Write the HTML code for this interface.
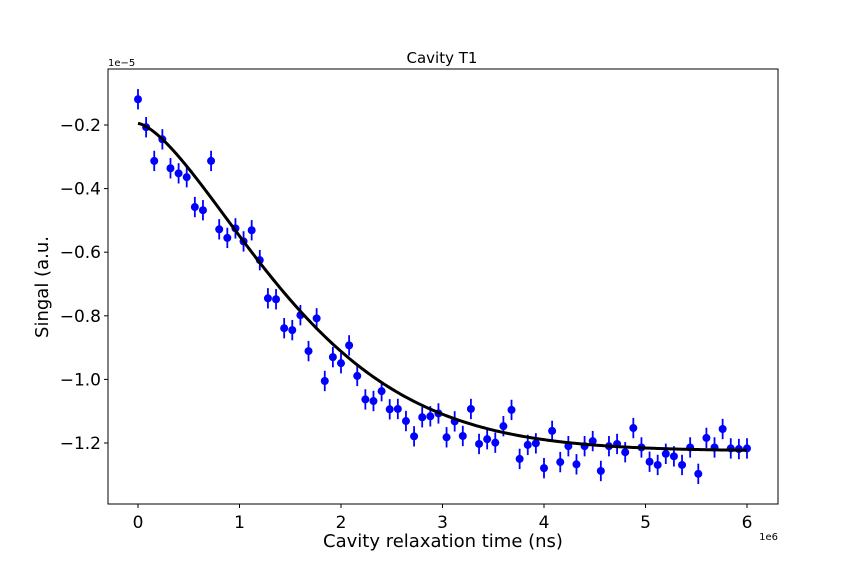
<!DOCTYPE html>
<html><head><meta charset="utf-8"><style>
body{margin:0;background:#fff;}
svg text{font-family:"DejaVu Sans","Liberation Sans",sans-serif;fill:#000;}
</style></head><body>
<svg id="chart" width="864" height="576">
<rect width="864" height="576" fill="#fff"/>
</svg>
<script>
const tValues=[0,0.08,0.16,0.24,0.32,0.4,0.48,0.56,0.64,0.72,0.8,0.88,0.96,1.04,1.12,1.2,1.28,1.36,1.44,1.52,1.6,1.68,1.76,1.84,1.92,2.0,2.08,2.16,2.24,2.32,2.4,2.48,2.56,2.64,2.72,2.8,2.88,2.96,3.04,3.12,3.2,3.28,3.36,3.44,3.52,3.6,3.68,3.76,3.84,3.92,4.0,4.08,4.16,4.24,4.32,4.4,4.48,4.56,4.64,4.72,4.8,4.88,4.96,5.04,5.12,5.2,5.28,5.36,5.44,5.52,5.6,5.68,5.76,5.84,5.92,6.0];
const signalValues=[-0.119,-0.207,-0.313,-0.245,-0.336,-0.352,-0.364,-0.458,-0.468,-0.313,-0.528,-0.555,-0.525,-0.566,-0.531,-0.625,-0.745,-0.748,-0.839,-0.845,-0.798,-0.911,-0.808,-1.005,-0.930,-0.949,-0.893,-0.989,-1.063,-1.068,-1.037,-1.094,-1.093,-1.131,-1.179,-1.119,-1.116,-1.107,-1.182,-1.132,-1.178,-1.093,-1.203,-1.188,-1.199,-1.147,-1.096,-1.250,-1.206,-1.201,-1.279,-1.162,-1.260,-1.210,-1.267,-1.210,-1.194,-1.288,-1.210,-1.203,-1.229,-1.153,-1.214,-1.259,-1.269,-1.234,-1.242,-1.269,-1.214,-1.297,-1.184,-1.214,-1.156,-1.217,-1.219,-1.217];
const errValues=new Array(76).fill(0.032);
const fitParams=[-0.195,-1.225,1.78,1.5]; // start, asymptote, T, stretch
const xTicks=[0,1,2,3,4,5,6];
const yTicks=[-0.2,-0.4,-0.6,-0.8,-1.0,-1.2];

const NS="http://www.w3.org/2000/svg";
const svg=document.getElementById('chart');
const L=108,R=778,T=69,B=504;
const xs=v=>138+(v-0)*(747-138)/6;
const ys=v=>125+(-0.2-v)*318/1.0;
function mk(tag,attrs,parent){const e=document.createElementNS(NS,tag);for(const k in attrs)e.setAttribute(k,attrs[k]);(parent||svg).appendChild(e);return e;}

const g=mk('g',{});


tValues.forEach((t,i)=>{
  const x=xs(t),y=signalValues[i];
  const eb=mk('line',{x1:x,x2:x,y1:ys(y+errValues[i]),y2:ys(y-errValues[i]),stroke:'#0000ff','stroke-width':1.8},g);
  
  
  const c=mk('circle',{cx:x,cy:ys(y),r:4,fill:'#0000ff'},g);
  
  
});
let d='';
for(let k=0;k<=300;k++){const t=6*k/300;const v=fitParams[1]+(fitParams[0]-fitParams[1])*Math.exp(-Math.pow(t/fitParams[2],fitParams[3]));d+=(k?'L':'M')+xs(t).toFixed(2)+','+ys(v).toFixed(2);}
const fit=mk('path',{d:d,fill:'none',stroke:'#000','stroke-width':3});



const fr=mk('rect',{x:L,y:T,width:R-L,height:B-T,fill:'none',stroke:'#000','stroke-width':1});



xTicks.forEach(v=>{
  const x=xs(v);
  const tk=mk('line',{x1:x,x2:x,y1:B,y2:B+4,stroke:'#000'});
  
  
  const tx=mk('text',{x:x,y:B+24,'text-anchor':'middle','font-size':17});
  tx.textContent=v;
  
  
});
yTicks.forEach(v=>{
  const y=ys(v);
  const tk=mk('line',{x1:L-4,x2:L,y1:y,y2:y,stroke:'#000'});
  
  
  const tx=mk('text',{x:L-7,y:y+6,'text-anchor':'end','font-size':17});
  tx.textContent=(v).toFixed(1).replace('-','\u2212');
  
  
});
</script>
<svg width="864" height="576" style="position:absolute;left:0;top:0">
<text x="442" y="63" text-anchor="middle" font-size="15">Cavity T1</text>
<text x="108" y="66" font-size="10">1e−5</text>
<text x="778" y="540" text-anchor="end" font-size="10">1e6</text>
<text x="443" y="547" text-anchor="middle" font-size="18">Cavity relaxation time (ns)</text>
<text x="0" y="0" transform="translate(48,287) rotate(-90)" text-anchor="middle" font-size="18">Singal (a.u.</text>
</svg>
</body></html>
